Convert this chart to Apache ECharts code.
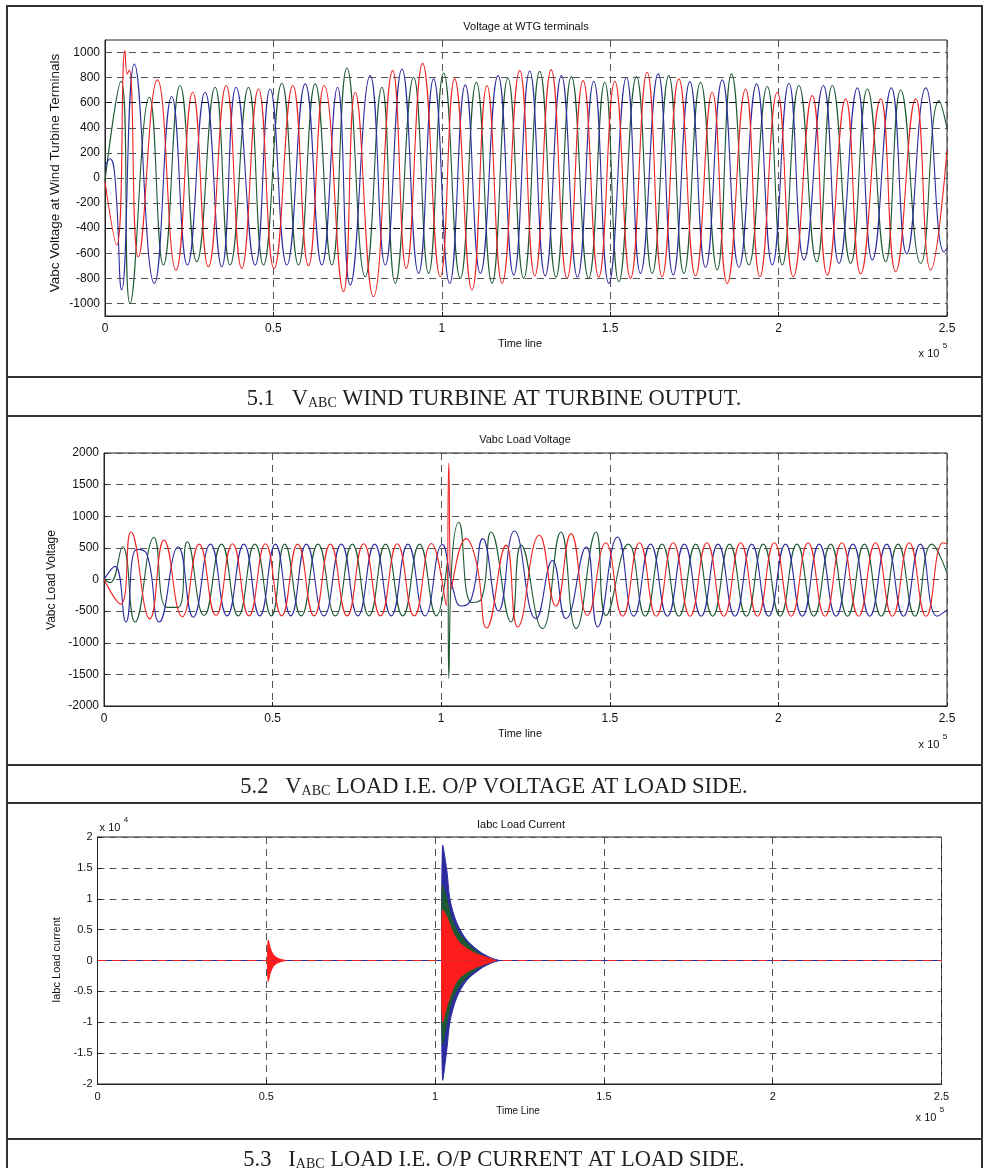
<!DOCTYPE html>
<html><head><meta charset="utf-8">
<script src="https://cdn.jsdelivr.net/npm/echarts@6/dist/echarts.min.js"></script>
<style>html,body{margin:0;padding:0;background:#fff}#c{width:984px;height:1168px}</style>
</head><body><div id="c"></div>
<script>
// ---------- shared ----------
// time is in units of 1e5 samples (axis shows "x 10^5")
const xTicks = [0, 0.5, 1, 1.5, 2, 2.5];
const wtgGridValues = [-1000, -800, -600, -400, -200, 0, 200, 400, 600, 800, 1000];

// ---------- panel 5.1 : Voltage at WTG terminals (extrema) ----------
const wtgRedT = [0,0.0347,0.0594,0.066,0.0723,0.099,0.1555,0.211,0.2605,0.307,0.3596,0.406,0.4557,0.502,0.5577,0.604,0.6508,0.708,0.743,0.797,0.854,0.8945,0.943,0.9955,1.038,1.0896,1.134,1.179,1.2313,1.276,1.3245,1.372,1.4195,1.466,1.5137,1.5602,1.6097,1.6543,1.7038,1.7533,1.8029,1.8474,1.902,1.9445,1.996,2.0436,2.0999,2.1446,2.1991,2.2437,2.3031,2.3477,2.4071,2.4517,2.5];
const wtgRedV = [-30,-535,1015,830,860,-628,782,-734,684,-708,737,-721,710,-721,737,-700,737,-906,684,-946,856,-721,914,-787,790,-893,737,-840,856,-780,864,-800,776,-790,771,-800,843,-787,790,-781,684,-840,710,-787,684,-787,657,-773,631,-765,631,-747,631,-733,220];
const wtgBlueT = [0,0.0149,0.0297,0.0495,0.0872,0.1466,0.1981,0.2447,0.2972,0.3467,0.3893,0.4458,0.4903,0.5399,0.5944,0.6439,0.6904,0.7281,0.7875,0.8321,0.8816,0.9311,0.9757,1.0233,1.0698,1.1144,1.1669,1.2135,1.261,1.307,1.3551,1.403,1.4512,1.4958,1.5483,1.5899,1.6424,1.687,1.7365,1.7831,1.8326,1.8821,1.9346,1.9812,2.0307,2.0753,2.1327,2.1793,2.2338,2.2784,2.3348,2.3804,2.4369,2.4913,2.5];
const wtgBlueV = [87,154,0,-893,909,-840,650,-694,684,-708,723,-694,710,-694,750,-694,723,-853,816,-694,869,-760,790,-840,742,-760,816,-774,853,-780,816,-790,771,-840,803,-760,830,-773,768,-712,782,-712,750,-693,755,-653,737,-680,718,-653,718,-605,718,-590,-560];
const wtgGreenT = [0,0.0475,0.0743,0.1317,0.1734,0.2229,0.2724,0.3269,0.3715,0.426,0.4705,0.525,0.5745,0.6241,0.6736,0.7182,0.7727,0.8222,0.8618,0.9163,0.9609,1.0054,1.055,1.1025,1.1491,1.1962,1.2432,1.2907,1.339,1.3848,1.436,1.4839,1.5256,1.578,1.6246,1.6739,1.7187,1.7682,1.8177,1.8603,1.9118,1.9663,2.0109,2.0604,2.1129,2.1595,2.214,2.2635,2.318,2.3626,2.422,2.4765,2.5];
const wtgGreenV = [-20,771,-1000,644,-694,737,-668,723,-694,723,-694,755,-694,750,-694,877,-787,723,-840,803,-760,837,-800,763,-840,795,-800,850,-790,808,-800,763,-827,808,-760,816,-760,763,-733,830,-693,729,-693,737,-667,737,-680,710,-667,702,-680,617,400];

// ---------- panel 5.2 : Vabc Load Voltage ----------
const loadRedT = [0,0.049,0.08,0.136,0.178,0.232,0.2823,0.332,0.381,0.43,0.4788,0.527,0.5745,0.623,0.6713,0.721,0.77,0.82,0.8697,0.92,0.9704,1.0148,1.0225,1.03,1.074,1.105,1.135,1.1925,1.227,1.291,1.34,1.385,1.434,1.488,1.538,1.588,1.638,1.688,1.738,1.788,1.838,1.888,1.938,1.988,2.038,2.088,2.138,2.188,2.238,2.288,2.338,2.388,2.438,2.488,2.5];
const loadRedV = [0,-389,751,-622,622,-590,560,-570,565,-575,565,-575,560,-575,560,-575,565,-575,565,-575,570,-414,1840,-150,647,260,-767,544,-751,700,-420,725,-570,580,-580,580,-580,580,-580,580,-580,580,-580,580,-580,580,-580,580,-580,580,-580,580,-580,580,560];
const loadBlueT = [0,0.0326,0.065,0.0967,0.126,0.164,0.22,0.2646,0.3159,0.365,0.4146,0.462,0.5084,0.554,0.6002,0.652,0.7038,0.753,0.8026,0.852,0.9013,0.952,1.003,1.035,1.06,1.09,1.1234,1.17,1.217,1.281,1.33,1.37,1.43,1.464,1.523,1.571,1.621,1.671,1.721,1.771,1.821,1.871,1.921,1.971,2.021,2.071,2.121,2.171,2.221,2.271,2.321,2.371,2.421,2.471,2.5];
const loadBlueV = [0,207,-673,476,414,-673,518,-596,560,-575,560,-575,560,-575,560,-575,560,-575,560,-575,560,-575,554,-150,-420,-300,647,-500,767,-620,300,-620,518,-750,673,-580,560,-580,560,-580,560,-580,560,-580,560,-580,560,-580,560,-580,560,-580,560,-580,-480];
const loadGreenT = [0,0.018,0.055,0.092,0.148,0.186,0.22,0.2468,0.297,0.3485,0.398,0.4472,0.4965,0.536,0.585,0.6347,0.686,0.7364,0.786,0.8351,0.886,0.9358,0.986,1.019,1.0225,1.03,1.0523,1.09,1.12,1.148,1.207,1.237,1.3,1.355,1.4,1.459,1.489,1.555,1.605,1.655,1.705,1.755,1.805,1.855,1.905,1.955,2.005,2.055,2.105,2.155,2.205,2.255,2.305,2.355,2.405,2.455,2.5];
const loadGreenV = [0,-50,518,-673,663,-440,-440,596,-570,560,-575,560,-575,560,-575,560,-575,560,-575,560,-575,560,-575,300,-1564,100,906,-363,-300,751,-673,544,-777,750,-777,750,-570,560,-580,560,-580,560,-580,560,-580,560,-580,560,-580,560,-580,560,-580,560,-580,560,100];

// ---------- panel 5.3 : Iabc Load Current (envelopes) ----------
const curBaseT = [0, 2.5];
const curBaseV = [0, 0];
const curRedSpikeT = [0.503,0.506,0.512,0.52,0.53,0.545,0.56];
const curRedSpikeUp = [0,3300,2000,1000,500,150,0];
const curRedSpikeLo = [0,-3400,-2000,-1000,-500,-150,0];
const curBlueT = [1.019,1.0228,1.0346,1.0444,1.0643,1.0939,1.1333,1.163,1.19];
const curBlueUp = [0,18700,14700,9800,6100,3300,1400,500,0];
const curBlueLo = [0,-19400,-14500,-9800,-6000,-3200,-1400,-500,0];
const curGreenT = [1.019,1.0228,1.0346,1.0543,1.0939,1.14,1.18];
const curGreenUp = [0,12100,10000,6000,2900,800,0];
const curGreenLo = [0,-13500,-10000,-5800,-2700,-800,0];
const curRedT = [1.019,1.0228,1.0346,1.0543,1.0741,1.1135,1.1531,1.18];
const curRedUp = [0,8200,7100,4400,2800,1300,500,0];
const curRedLo = [0,-10000,-7500,-4400,-2700,-1300,-500,0];

// ---------- rendering ----------
const FONT = '"Liberation Sans", Arial, Helvetica, sans-serif';
const SERIF = '"Liberation Serif", "Times New Roman", serif';
const RED = '#ee2424', BLUE = '#2c2ca0', GREEN = '#1d5a34';
const zip = (t, v) => t.map((x, i) => [x, v[i]]);

const chart = echarts.init(document.getElementById('c'), null, {renderer: 'canvas', width: 984, height: 1168});

const grids = [
  {left: 105, top: 40, width: 842, height: 276},
  {left: 104, top: 453, width: 843, height: 253},
  {left: 97.5, top: 837, width: 844, height: 247}
].map(g => Object.assign(g, {show: true, borderColor: '#222', borderWidth: 1, backgroundColor: '#fff'}));

const dash = {type: [7, 5], color: '#555', width: 1};
const tick = {show: true, inside: true, length: 4, lineStyle: {color: '#222'}};
function xAx(gi, fs) {
  return {type: 'value', gridIndex: gi, min: 0, max: 2.5, interval: 0.5,
    axisLine: {show: true, onZero: false, lineStyle: {color: '#222'}},
    axisTick: tick,
    axisLabel: {color: '#111', fontSize: fs, fontFamily: FONT, margin: 7,
      customValues: xTicks, formatter: v => String(+(+v).toFixed(2))},
    splitLine: {show: true, lineStyle: dash}};
}
const yAxes = [
  {type: 'value', gridIndex: 0, min: -1100, max: 1100, interval: 100,
   axisLine: {show: true, lineStyle: {color: '#222'}},
   axisTick: Object.assign({customValues: wtgGridValues}, tick),
   axisLabel: {color: '#111', fontSize: 12, fontFamily: FONT, margin: 5, customValues: wtgGridValues,
     formatter: v => (Math.abs(v) <= 1000 && v % 200 === 0) ? String(v) : ''},
   splitLine: {show: false}},
  {type: 'value', gridIndex: 1, min: -2000, max: 2000, interval: 500,
   axisLine: {show: true, lineStyle: {color: '#222'}}, axisTick: tick,
   axisLabel: {color: '#111', fontSize: 12, fontFamily: FONT, margin: 5, formatter: v => String(v)},
   splitLine: {show: true, lineStyle: dash}},
  {type: 'value', gridIndex: 2, min: -20000, max: 20000, interval: 5000,
   axisLine: {show: true, lineStyle: {color: '#222'}}, axisTick: tick,
   axisLabel: {color: '#111', fontSize: 11, fontFamily: FONT, margin: 5, formatter: v => String(v / 10000)},
   splitLine: {show: true, lineStyle: dash}}
];

function wave(gi, data, color, z) {
  return {type: 'line', xAxisIndex: gi, yAxisIndex: gi, data: data, showSymbol: false, symbol: 'none',
    smooth: 0.5, z: z || 3, lineStyle: {color: color, width: 1.1}, itemStyle: {color: color}, silent: true};
}
function band(data, color, z) {
  return {type: 'line', xAxisIndex: 2, yAxisIndex: 2, data: data, showSymbol: false, symbol: 'none',
    smooth: 0.3, z: z, lineStyle: {color: color, width: 1}, itemStyle: {color: color},
    areaStyle: {color: color, opacity: 1, origin: 0}, silent: true};
}

const series = [
  {type: 'line', xAxisIndex: 0, yAxisIndex: 0, data: [], z: 1, silent: true,
   markLine: {silent: true, symbol: ['none', 'none'], label: {show: false}, animation: false,
     data: wtgGridValues.map(v => ({yAxis: v, lineStyle: {type: [7, 5], width: 1,
       color: (v === 600 || v === -400) ? '#111' : '#555'}}))}},
  wave(0, zip(wtgGreenT, wtgGreenV), GREEN),
  wave(0, zip(wtgBlueT, wtgBlueV), BLUE),
  wave(0, zip(wtgRedT, wtgRedV), RED),
  wave(1, zip(loadGreenT, loadGreenV), GREEN),
  wave(1, zip(loadBlueT, loadBlueV), BLUE),
  wave(1, zip(loadRedT, loadRedV), RED),
  wave(2, zip(curBaseT, curBaseV), BLUE, 3),
  band(zip(curBlueT, curBlueUp), BLUE, 4),
  band(zip(curBlueT, curBlueLo), BLUE, 4),
  band(zip(curGreenT, curGreenUp), GREEN, 5),
  band(zip(curGreenT, curGreenLo), GREEN, 5),
  band(zip(curRedT, curRedUp), '#ff1c1c', 6),
  band(zip(curRedT, curRedLo), '#ff1c1c', 6),
  band(zip(curRedSpikeT, curRedSpikeUp), '#ff1c1c', 6),
  band(zip(curRedSpikeT, curRedSpikeLo), '#ff1c1c', 6),
  Object.assign(wave(2, zip(curBaseT, curBaseV), RED, 7), {lineStyle: {color: RED, width: 1.2, type: [9, 6]}})
];

// ---------- text / frame ----------
function txt(x, y, s, size, opts) {
  return Object.assign({type: 'text', x: x, y: y, silent: true, z: 100,
    style: {text: s, x: 0, y: 0, fill: '#111', font: size + 'px ' + FONT, align: 'center', verticalAlign: 'middle'}}, opts || {});
}
function vtxt(x, y, s, size) {
  return {type: 'text', x: x, y: y, rotation: Math.PI / 2, silent: true, z: 100,
    style: {text: s, x: 0, y: 0, fill: '#111', font: size + 'px ' + FONT, align: 'center', verticalAlign: 'middle'}};
}
function caption(y, num, letter, rest) {
  return {type: 'text', x: 494, y: y, silent: true, z: 100,
    style: {text: '{m|' + num + '   ' + letter + '}{s|ABC}{m| ' + rest + '}', x: 0, y: 0, align: 'center', verticalAlign: 'middle',
      rich: {m: {font: '22.5px ' + SERIF, fill: '#222', lineHeight: 27, verticalAlign: 'bottom'},
             s: {font: '14px ' + SERIF, fill: '#222', lineHeight: 10, verticalAlign: 'bottom'}}}};
}
function hline(y) {
  return {type: 'line', silent: true, z: 100, shape: {x1: 7, y1: y, x2: 982, y2: y}, style: {stroke: '#333', lineWidth: 2}};
}
function times10(x, y, exp) {
  return [txt(x, y, 'x 10', 11), txt(x + 16, y - 8, exp, 8)];
}

const graphics = [
  {type: 'rect', silent: true, z: 100, shape: {x: 7, y: 6, width: 975, height: 1180}, style: {fill: 'none', stroke: '#333', lineWidth: 2}},
  hline(377), hline(416), hline(765), hline(803), hline(1139),
  txt(526, 27, 'Voltage at WTG terminals', 11),
  txt(520, 344, 'Time line', 11),
  vtxt(55, 173, 'Vabc Voltage at Wind Turbine Terminals', 13.5),
  ...times10(929, 354, '5'),
  caption(397, '5.1', 'V', 'WIND TURBINE AT TURBINE OUTPUT.'),
  txt(525, 440, 'Vabc Load Voltage', 11),
  txt(520, 734, 'Time line', 11),
  vtxt(52, 580, 'Vabc Load Voltage', 12),
  ...times10(929, 745, '5'),
  caption(785, '5.2', 'V', 'LOAD I.E. O/P VOLTAGE AT LOAD SIDE.'),
  txt(521, 825, 'Iabc Load Current', 11),
  txt(518, 1111, 'Time Line', 10),
  vtxt(57, 960, 'Iabc Load current', 11),
  ...times10(926, 1118, '5'),
  ...times10(110, 828, '4'),
  caption(1158, '5.3', 'I', 'LOAD I.E. O/P CURRENT AT LOAD SIDE.')
];

chart.setOption({
  animation: false,
  backgroundColor: '#fff',
  grid: grids,
  xAxis: [xAx(0, 12), xAx(1, 12), xAx(2, 11)],
  yAxis: yAxes,
  series: series,
  graphic: {elements: graphics}
});
</script></body></html>
